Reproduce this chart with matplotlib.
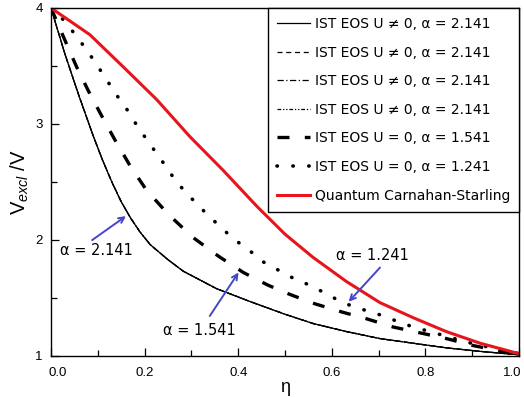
import numpy as np
import matplotlib
matplotlib.use('Agg')
import matplotlib.pyplot as plt
from matplotlib.transforms import ScaledTranslation

plt.rcParams['font.family'] = ['Liberation Sans', 'DejaVu Sans']
plt.rcParams['mathtext.fontset'] = 'custom'
plt.rcParams['mathtext.rm'] = 'Liberation Sans'
plt.rcParams['mathtext.it'] = 'Liberation Sans:italic'

# alpha = 2.141, U != 0 (four nearly identical curves)
eta_u = [0, 0.03, 0.06, 0.09, 0.11, 0.13, 0.15, 0.17, 0.19, 0.212, 0.25,
         0.283, 0.354, 0.425, 0.5, 0.56, 0.632, 0.703, 0.774, 0.845, 0.917, 1.0]
v_u = [4.0, 3.60, 3.24, 2.90, 2.69, 2.50, 2.33, 2.19, 2.07, 1.96, 1.83,
       1.73, 1.58, 1.47, 1.36, 1.28, 1.21, 1.15, 1.11, 1.07, 1.04, 1.01]

# alpha = 1.541, U = 0
eta_a = [0, 0.03, 0.055, 0.083, 0.115, 0.137, 0.169, 0.204, 0.251, 0.304,
         0.358, 0.411, 0.464, 0.511, 0.564, 0.621, 0.675, 0.731, 0.788,
         0.845, 0.902, 0.952, 1.0]
v_a = [4.0, 3.72, 3.49, 3.26, 3.02, 2.86, 2.64, 2.43, 2.22, 2.02,
       1.86, 1.72, 1.61, 1.53, 1.45, 1.38, 1.32, 1.25, 1.20,
       1.15, 1.09, 1.05, 1.01]

# alpha = 1.241, U = 0
eta_b = [0, 0.026, 0.05, 0.076, 0.098, 0.119, 0.14, 0.16, 0.18, 0.202,
         0.225, 0.248, 0.268, 0.30, 0.329, 0.36, 0.39, 0.424, 0.454, 0.486,
         0.518, 0.553, 0.582, 0.614, 0.643, 0.675, 0.707, 0.739, 0.774,
         0.81, 0.845, 0.888, 0.931, 0.98, 1.0]
v_b = [4.0, 3.90, 3.78, 3.64, 3.51, 3.38, 3.25, 3.14, 3.01, 2.88,
       2.75, 2.62, 2.50, 2.36, 2.24, 2.12, 2.01, 1.91, 1.81, 1.74,
       1.67, 1.61, 1.55, 1.48, 1.43, 1.39, 1.35, 1.30, 1.25,
       1.21, 1.17, 1.12, 1.08, 1.04, 1.02]

# quantum Carnahan-Starling
eta_cs = [0, 0.083, 0.155, 0.226, 0.297, 0.368, 0.44, 0.5, 0.56, 0.632,
          0.703, 0.774, 0.845, 0.917, 1.0]
v_cs = [4.0, 3.77, 3.49, 3.21, 2.89, 2.60, 2.29, 2.05, 1.85, 1.64,
        1.46, 1.33, 1.21, 1.11, 1.02]

lab_u = 'IST EOS U \u2260 0, \u03b1 = 2.141'
lab_a = 'IST EOS U = 0, \u03b1 = 1.541'
lab_b = 'IST EOS U = 0, \u03b1 = 1.241'
lab_cs = 'Quantum Carnahan-Starling'

fig, ax = plt.subplots(figsize=(5.24, 3.97), dpi=100)
fig.subplots_adjust(left=51/524, right=519/524, top=1-8/397, bottom=1-356/397)

ax.plot(eta_u, v_u, color='black', lw=0.9, ls='-', label=lab_u)
ax.plot(eta_u, v_u, color='black', lw=0.9, ls=(0, (4, 3)), label=lab_u)
ax.plot(eta_u, v_u, color='black', lw=0.9, ls=(0, (5, 2, 1, 2)), label=lab_u)
ax.plot(eta_u, v_u, color='black', lw=0.9, ls=(0, (3, 1.5, 1, 1.5, 1, 1.5)), label=lab_u)
ax.plot(eta_a, v_a, color='black', lw=2.4, ls=(0, (3.6, 4.6)), label=lab_a)
ax.plot(eta_b, v_b, color='black', lw=2.6, ls=(0, (0.1, 4.3)),
        dash_capstyle='round', label=lab_b)
ax.plot(eta_cs, v_cs, color='#e8141b', lw=2.2, label=lab_cs)

ax.set_xlim(0, 1.0)
ax.set_ylim(1, 4)
ax.set_xticks([0, 0.2, 0.4, 0.6, 0.8, 1.0])
ax.set_xticks(np.arange(0.1, 1.0, 0.2), minor=True)
ax.set_yticks([1, 2, 3, 4])
ax.set_yticks([1.5, 2.5, 3.5], minor=True)
ax.set_xticklabels(['0.0', '0.2', '0.4', '0.6', '0.8', '1.0'])
ax.tick_params(which='both', direction='in', labelsize=9.5, width=0.9)
ax.tick_params(which='major', length=6)
ax.tick_params(which='minor', length=4)
ax.tick_params(axis='x', which='major', pad=8)
ax.tick_params(axis='y', which='major', pad=6)
for s in ax.spines.values():
    s.set_linewidth(1.0)

# end labels sit inside the axis range, as in the original
xl = ax.get_xticklabels()
xl[0].set_transform(xl[0].get_transform() + ScaledTranslation(0.07, 0, fig.dpi_scale_trans))
xl[-1].set_transform(xl[-1].get_transform() + ScaledTranslation(-0.07, 0, fig.dpi_scale_trans))

ax.set_xlabel('\u03b7', fontsize=13, labelpad=0)
ax.set_ylabel(r'V$_{excl}$ /V', fontsize=14.5, labelpad=3)

leg = ax.legend(loc='upper right', bbox_to_anchor=(1, 1), borderaxespad=0,
                fancybox=False, edgecolor='black', framealpha=1,
                handlelength=2.4, labelspacing=1.05, handletextpad=0.3,
                borderpad=0.65, prop={'family': 'DejaVu Sans', 'size': 10})
leg.get_frame().set_linewidth(1.0)

blue = '#4646c8'
tfont = {'family': 'DejaVu Sans', 'size': 10.5}
ax.text(0.098, 1.91, '\u03b1 = 2.141', ha='center', va='center', fontdict=tfont)
ax.annotate('', xy=(0.165, 2.22), xytext=(0.083, 1.985),
            arrowprops=dict(arrowstyle='->', color=blue, lw=1.4))
ax.text(0.316, 1.216, '\u03b1 = 1.541', ha='center', va='center', fontdict=tfont)
ax.annotate('', xy=(0.404, 1.74), xytext=(0.336, 1.325),
            arrowprops=dict(arrowstyle='->', color=blue, lw=1.4))
ax.text(0.686, 1.87, '\u03b1 = 1.241', ha='center', va='center', fontdict=tfont)
ax.annotate('', xy=(0.632, 1.45), xytext=(0.707, 1.78),
            arrowprops=dict(arrowstyle='->', color=blue, lw=1.4))

plt.savefig('out.png', dpi=100)
